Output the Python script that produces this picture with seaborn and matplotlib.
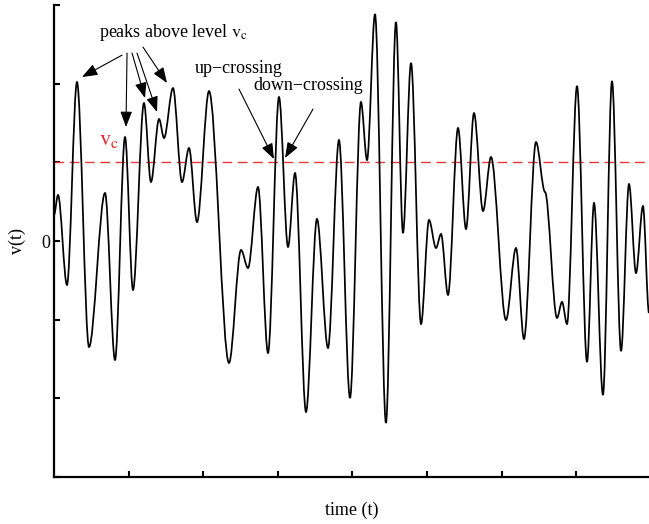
import numpy as np
import pandas as pd
import matplotlib
matplotlib.use("Agg")
import matplotlib.pyplot as plt
from matplotlib.path import Path
from matplotlib.patches import PathPatch
import seaborn as sns

# Local extrema of the signal v(t)
time_pts = [0.000, 0.054, 0.174, 0.308, 0.469, 0.684, 0.818, 0.952, 1.059, 1.206,
            1.300, 1.408, 1.475, 1.595, 1.716, 1.810, 1.917, 2.078, 2.346, 2.507,
            2.601, 2.735, 2.869, 3.016, 3.137, 3.231, 3.378, 3.525, 3.673, 3.820,
            3.968, 4.115, 4.196, 4.303, 4.450, 4.584, 4.678, 4.786, 4.920, 5.027,
            5.121, 5.188, 5.282, 5.416, 5.523, 5.630, 5.751, 5.858, 6.059, 6.193,
            6.300, 6.461, 6.582, 6.743, 6.810, 6.877, 7.011, 7.145, 7.239, 7.359,
            7.480, 7.601, 7.708, 7.802, 7.895, 7.976]
value_pts = [0.33, 0.585, -0.559, 2.02, -1.347, 0.61, -1.512, 1.321, -0.623, 1.753,
             0.750, 1.550, 1.309, 1.944, 0.750, 1.182, 0.241, 1.906, -1.550, -0.114,
             -0.343, 0.686, -1.423, 1.830, -0.076, 0.864, -2.173, 0.280, -1.360, 1.283,
             -1.995, 1.766, 1.029, 2.884, -2.313, 2.783, 0.102, 2.262, -1.055, 0.267,
             -0.089, 0.089, -0.686, 1.436, 0.152, 1.626, 0.381, 1.067, -1.004, -0.089,
             -1.245, 1.258, 0.623, -0.978, -0.775, -1.055, 1.970, -1.537, 0.483, -1.957,
             2.033, -1.398, 0.724, -0.407, 0.445, -0.915]
level_vc = 1.0
y_ticks = [-3, -2, -1, 0, 1, 2, 3]
y_tick_labels = ["", "", "", "0", "", "", ""]
x_ticks = [1, 2, 3, 4, 5, 6, 7]

df = pd.DataFrame({"t": time_pts, "v": value_pts})

sns.set_style("ticks")
plt.rcParams["font.family"] = ["Liberation Serif", "DejaVu Serif"]
plt.rcParams["mathtext.fontset"] = "stix"
plt.rcParams["text.color"] = "black"
plt.rcParams["axes.labelcolor"] = "black"
plt.rcParams["xtick.color"] = "black"
plt.rcParams["ytick.color"] = "black"

fig = plt.figure(figsize=(6.49, 5.24), dpi=100)
ax = fig.add_axes([54 / 649, 47 / 524, 595 / 649, 472 / 524])

# smooth curve through the read extrema (horizontal tangent at each extremum)
verts = [(df.t[0], df.v[0])]
codes = [Path.MOVETO]
for i in range(len(df) - 1):
    t0, v0, t1, v1 = df.t[i], df.v[i], df.t[i + 1], df.v[i + 1]
    dt = t1 - t0
    verts += [(t0 + dt / 3, v0), (t1 - dt / 3, v1), (t1, v1)]
    codes += [Path.CURVE4] * 3
ax.add_patch(PathPatch(Path(verts, codes), facecolor="none", edgecolor="black",
                       lw=1.25, zorder=3))

ax.axhline(level_vc, color="#e8393a", lw=1.0, dashes=(7, 4), zorder=2)

ax.set_xlim(0, 7.976)
ax.set_ylim(-3, 3)
ax.set_xticks(x_ticks)
ax.set_xticklabels([])
ax.set_yticks(y_ticks)
ax.set_yticklabels(y_tick_labels, fontsize=13)
ax.tick_params(direction="in", length=4.3, width=1.5, pad=3, colors="black")
sns.despine(ax=ax)
for s in ("left", "bottom"):
    ax.spines[s].set_linewidth(1.6)
    ax.spines[s].set_color("black")

ax.set_xlabel("time (t)", fontsize=13, color="black")
ax.xaxis.set_label_coords(0.5, -0.053)
ax.set_ylabel("v(t)", fontsize=13, color="black")
ax.yaxis.set_label_coords(-0.047, 0.5)

# annotations
ax.text(0.603, 2.592, r"peaks above level $\mathrm{v}_\mathrm{c}$", fontsize=13,
        ha="left", va="baseline", color="black")
ax.text(1.890, 2.135, "up\u2212crossing", fontsize=13, ha="left", va="baseline",
        color="black")
ax.text(2.668, 1.919, "down\u2212crossing", fontsize=13, ha="left", va="baseline",
        color="black")
ax.text(0.603, 1.220, r"$\mathrm{v}_\mathrm{c}$", fontsize=16, color="#e8202a",
        ha="left", va="baseline")

arrow_kw = dict(arrowstyle="-|>,head_length=0.95,head_width=0.36", color="black",
                lw=0.8, mutation_scale=10, shrinkA=0, shrinkB=0)
arrows = [((0.912, 2.363), (0.375, 2.084)),
          ((0.979, 2.389), (0.965, 1.449)),
          ((1.046, 2.389), (1.220, 1.817)),
          ((1.113, 2.389), (1.381, 1.639)),
          ((1.193, 2.465), (1.515, 2.008)),
          ((2.480, 1.931), (2.949, 1.042)),
          ((3.472, 1.677), (3.097, 1.055))]
for start, tip in arrows:
    ax.annotate("", xy=tip, xytext=start, arrowprops=arrow_kw)

fig.savefig("out.png", dpi=100)
